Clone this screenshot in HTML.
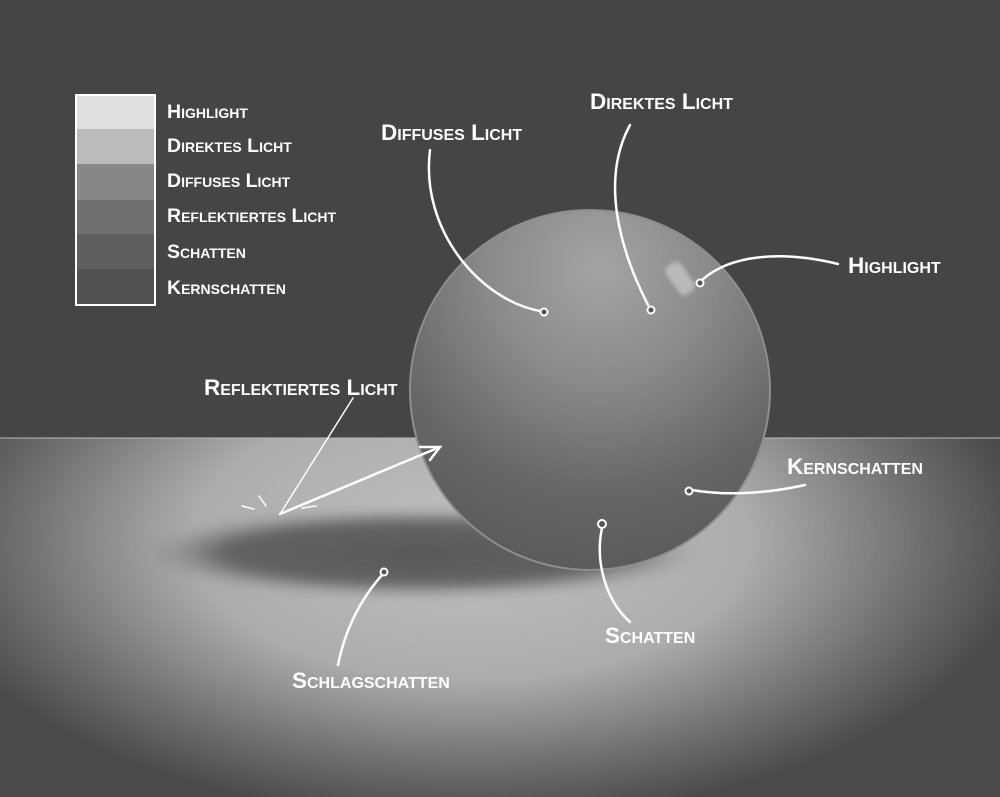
<!DOCTYPE html>
<html><head><meta charset="utf-8"><style>
html,body{margin:0;padding:0;background:#454545;}
svg{display:block}
text{font-family:"Liberation Sans",sans-serif;font-variant:small-caps;fill:#fff;font-weight:bold;}
</style></head><body>
<svg width="1000" height="797" viewBox="0 0 1000 797" xmlns="http://www.w3.org/2000/svg">
<defs>
<radialGradient id="floor" cx="470" cy="540" r="560" gradientUnits="userSpaceOnUse" gradientTransform="translate(470 540) scale(1 0.5) translate(-470 -540)">
<stop offset="0" stop-color="#c2c2c2"/><stop offset="0.5" stop-color="#acacac"/><stop offset="0.8" stop-color="#707070"/><stop offset="1" stop-color="#4a4a4a"/>
</radialGradient>
<radialGradient id="sph" cx="600" cy="270" r="320" gradientUnits="userSpaceOnUse">
<stop offset="0" stop-color="#a4a4a4"/><stop offset="0.35" stop-color="#8a8a8a"/><stop offset="0.7" stop-color="#666"/><stop offset="1" stop-color="#585858"/>
</radialGradient>
<radialGradient id="shd" cx="0.5" cy="0.5" r="0.5">
<stop offset="0" stop-color="#585858"/><stop offset="0.7" stop-color="#636363"/><stop offset="1" stop-color="#8a8a8a" stop-opacity="0"/>
</radialGradient>
<filter id="bl"><feGaussianBlur stdDeviation="6"/></filter>
<filter id="bl2"><feGaussianBlur stdDeviation="2"/></filter>
</defs>
<rect width="1000" height="438" fill="#454545"/>
<rect y="438" width="1000" height="359" fill="url(#floor)"/>
<rect y="437" width="1000" height="2" fill="#bbb" opacity="0.5"/>
<ellipse cx="420" cy="553" rx="280" ry="44" fill="url(#shd)" filter="url(#bl)"/>
<circle cx="590" cy="390" r="180" fill="url(#sph)" stroke="#8e8e8e" stroke-width="2"/>
<rect x="672" y="262" width="18" height="34" rx="6" fill="#dcdcdc" opacity="0.55" filter="url(#bl2)" transform="rotate(-35 680 280)"/>
<!-- legend -->
<rect x="76" y="95" width="79" height="210" fill="#444" stroke="#fff" stroke-width="2"/>
<rect x="77" y="96" width="77" height="33" fill="#e0e0e0"/>
<rect x="77" y="129" width="77" height="35" fill="#bbb"/>
<rect x="77" y="164" width="77" height="36" fill="#878787"/>
<rect x="77" y="200" width="77" height="34" fill="#707070"/>
<rect x="77" y="234" width="77" height="35" fill="#5f5f5f"/>
<rect x="77" y="269" width="77" height="35" fill="#525252"/>
<g font-size="19.5" font-weight="normal" style="font-weight:600">
<text x="167" y="118">Highlight</text>
<text x="167" y="152">Direktes Licht</text>
<text x="167" y="187">Diffuses Licht</text>
<text x="167" y="222">Reflektiertes Licht</text>
<text x="167" y="258">Schatten</text>
<text x="167" y="294">Kernschatten</text>
</g>
<g font-size="22.5">
<text x="381" y="140">Diffuses Licht</text>
<text x="590" y="109">Direktes Licht</text>
<text x="848" y="273">Highlight</text>
<text x="204" y="395">Reflektiertes Licht</text>
<text x="787" y="474">Kernschatten</text>
<text x="605" y="643">Schatten</text>
<text x="292" y="688">Schlagschatten</text>
</g>
<g fill="none" stroke="#fff" stroke-width="2.5" stroke-linecap="round">
<path d="M430 150 C420 230 480 300 540 311"/>
<path d="M630 125 C600 180 620 250 648 305"/>
<path d="M838 264 C780 250 730 255 702 280"/>
<path d="M805 485 C760 495 720 495 692 490"/>
<path d="M602 528 C595 560 605 600 630 622"/>
<path d="M382 575 C360 600 345 630 338 665"/>
<path d="M280 514 L440 447 M420 447 L440 447 L430 460" stroke-width="2.5"/>
<path d="M280 514 L353 398" stroke-width="1.5"/>
<path d="M242 506 L254 509 M259 496 L266 506 M302 508 L316 506" stroke-width="1.5"/>
</g>
<g fill="#555" stroke="#fff" stroke-width="2">
<circle cx="544" cy="312" r="3.5"/><circle cx="651" cy="310" r="3.5"/><circle cx="700" cy="283" r="3.5"/>
<circle cx="689" cy="491" r="3.5"/><circle cx="602" cy="524" r="4"/><circle cx="384" cy="572" r="3.5"/>
</g>
</svg>
</body></html>
